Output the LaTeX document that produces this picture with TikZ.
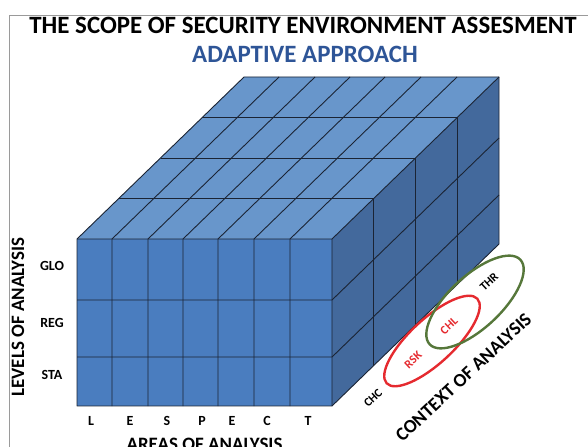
\documentclass[tikz,border=0pt]{standalone}
\usepackage{fontspec}
\setmainfont{Carlito}
\usepackage{tikz}
\usetikzlibrary{shapes.geometric}
\definecolor{frontblue}{HTML}{4A7DBF}
\definecolor{topblue}{HTML}{6896CB}
\definecolor{sideblue}{HTML}{43699C}
\definecolor{gridline}{HTML}{1B2434}
\definecolor{titleblue}{HTML}{2E5597}
\definecolor{riskred}{HTML}{E52A2F}
\definecolor{threatgreen}{HTML}{56773A}
\definecolor{framegray}{HTML}{9A9A9A}

\begin{document}
\begin{tikzpicture}[x=1bp,y=-1bp,grid/.style={draw=gridline,line width=0.9bp,line join=round},
lbl/.style={font=\bfseries\fontsize{14}{16}\selectfont,inner sep=0pt},
axis/.style={font=\bfseries\fontsize{19}{21}\selectfont,inner sep=0pt},
ctx/.style 2 args={ellipse,draw=#1,line width=2.4bp,minimum width=124bp,minimum height=#2,rotate=43,inner sep=0pt},
ctxlbl/.style={font=\bfseries\fontsize{12}{14}\selectfont,inner sep=0pt,rotate=43,text=#1}]
\useasboundingbox (0,0) rectangle (588,447);
\clip (0,0) rectangle (588,447);
\draw[framegray,line width=0.8bp] (9,460) |- (600,15);
\node[font=\bfseries\fontsize{25}{27}\selectfont,inner sep=0pt] (title) at (303,25) {THE SCOPE OF SECURITY ENVIRONMENT ASSESMENT};
\node[font=\bfseries\fontsize{25}{27}\selectfont,text=titleblue,inner sep=0pt] (subtitle) at (305,54) {ADAPTIVE APPROACH};
\fill[topblue] (77,239) -- (332,239) -- (499,77) -- (244,77) -- cycle;
\fill[sideblue] (332,239) -- (332,406) -- (499,244) -- (499,77) -- cycle;
\fill[frontblue] (77,239) rectangle (332,406);
\foreach \k in {1,2,3} {
   \draw[grid] (77+41.75*\k,239-40.5*\k) -- (332+41.75*\k,239-40.5*\k) -- (332+41.75*\k,406-40.5*\k);
}
\foreach \x in {112,148,183,218,254,290} {
   \draw[grid] (\x,406) -- (\x,239) -- (\x+167,77);
}
\foreach \y in {300,357} {
   \draw[grid] (77,\y) -- (332,\y) -- (499,\y-162);
}
\draw[grid] (77,406) -- (77,239) -- (244,77) -- (499,77) -- (499,244) -- (332,406) -- cycle;
\draw[grid] (77,239) -- (332,239) -- (499,77) (332,239) -- (332,406);
\node[axis,rotate=90] (levels) at (18,317) {LEVELS OF ANALYSIS};
\foreach \y/\l in {266/GLO,323/REG,375/STA} {
   \node[lbl] (\l) at (52,\y) {\l};
}
\foreach \x/\l [count=\i] in {91/L,130/E,167/S,202/P,232/E,267/C,308/T} {
   \node[lbl] (area\i) at (\x,421) {\l};
}
\node[axis,anchor=base] (areas) at (204.5,450) {AREAS OF ANALYSIS};
\node[ctx={riskred}{44bp}] (risk) at (432,341) {};
\node[ctx={threatgreen}{52bp}] (threat) at (475,302) {};
\node[ctxlbl=black] (chc) at (373,398) {CHC};
\node[ctxlbl=riskred] (rsk) at (413,360) {RSK};
\node[ctxlbl=riskred] (chl) at (449,326) {CHL};
\node[ctxlbl=black] (thr) at (489,282) {THR};
\node[axis,rotate=43] (context) at (463.5,377.5) {CONTEXT OF ANALYSIS};
\end{tikzpicture}
\end{document}
